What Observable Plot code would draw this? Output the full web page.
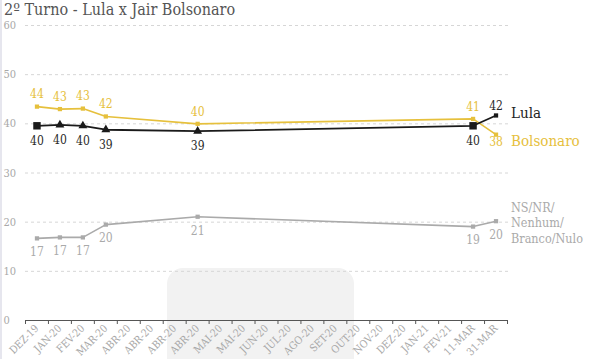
<!DOCTYPE html>
<html>
<head>
<meta charset="utf-8">
<script src="https://cdn.jsdelivr.net/npm/d3@7"></script>
<script src="https://cdn.jsdelivr.net/npm/@observablehq/plot@0.6"></script>
<style>
  body { margin: 0; background: #fff; }
  #wrap { position: relative; width: 600px; height: 359px; overflow: hidden; font-family: "DejaVu Serif Condensed", "DejaVu Serif", serif; }
  #edge { position: absolute; left: 0; top: 0; width: 2px; height: 359px; background: #e6e6ee; }
  #mark { position: absolute; left: 167px; top: 268px; width: 187px; height: 120px; background: #f2f2f2; border-radius: 16px 16px 0 0; }
  #title { position: relative; height: 20px; line-height: 20px; padding-left: 4px; font-size: 16px; color: #555; font-stretch: condensed; white-space: nowrap; }
  #chart { position: relative; }
  #chart svg { background: transparent; overflow: visible; }
</style>
</head>
<body>
<div id="wrap">
  <div id="edge"></div>
  <div id="mark"></div>
  <div id="title">2º Turno - Lula x Jair Bolsonaro</div>
  <div id="chart"></div>
</div>
<script>
const categories = ["DEZ-19","JAN-20","FEV-20","MAR-20","ABR-20","ABR-20","ABR-20","ABR-20","MAI-20","MAI-20","JUN-20","JUL-20","AGO-20","SET-20","OUT-20","NOV-20","DEZ-20","JAN-21","FEV-21","11-MAR","31-MAR"];
const surveyIndex = [0, 1, 2, 3, 7, 19, 20];
const lula = [39.6, 39.8, 39.6, 38.8, 38.5, 39.6, 41.7];
const bolsonaro = [43.5, 43.0, 43.1, 41.5, 40.0, 41.0, 37.8];
const nsnr = [16.7, 16.9, 16.9, 19.5, 21.1, 19.1, 20.2];
const yTicks = [0, 10, 20, 30, 40, 50, 60];
const seriesNames = ["Lula", "Bolsonaro", "NS/NR/\nNenhum/\nBranco/Nulo"];

const GOLD = "#e6c03c", BLACK = "#1a1a1a", GRAY = "#aaaaaa";
const FONT = '"DejaVu Serif Condensed", "DejaVu Serif", serif';

const mk = (vals) => vals.map((v, i) => ({i, x: surveyIndex[i] + 0.5, y: v, label: Math.round(v)}));
const L = mk(lula), B = mk(bolsonaro), N = mk(nsnr);
const last = surveyIndex.length - 1;

const chart = Plot.plot({
  width: 600,
  height: 339,
  marginTop: 5,
  marginBottom: 39,
  marginLeft: 25,
  marginRight: 93,
  style: {fontFamily: FONT, background: "transparent", overflow: "visible"},
  x: {type: "linear", domain: [0, categories.length]},
  y: {domain: [0, 60]},
  marks: [
    Plot.gridY(yTicks.filter(d => d > 0), {stroke: "#d6d6d6", strokeOpacity: 1, strokeDasharray: "3,3", x1: 0, x2: categories.length + 0.15}),
    Plot.axisY(yTicks, {tickSize: 0, tickPadding: 22, textAnchor: "start", fill: "#a8a8a8", fontSize: 11, label: null}),
    Plot.ruleY([0], {stroke: "#555", strokeWidth: 1.2}),
    Plot.axisX(d3.range(categories.length + 1), {tickSize: 4, tickFormat: () => "", stroke: "#555", label: null}),
    Plot.axisX(d3.range(categories.length).map(i => i + 0.5), {tickSize: 0, tickPadding: 6, tickRotate: -45, tickFormat: d => categories[Math.floor(d)], fill: "#a8a8a8", fontSize: 10.5, label: null}),

    Plot.line(N, {x: "x", y: "y", stroke: GRAY, strokeWidth: 1.6}),
    Plot.dot(N, {x: "x", y: "y", symbol: "square", r: 2.4, fill: GRAY}),
    Plot.text(N, {x: "x", y: "y", text: "label", dy: 14, fill: GRAY, fontSize: 12}),

    Plot.line(B, {x: "x", y: "y", stroke: GOLD, strokeWidth: 1.6}),
    Plot.dot(B, {x: "x", y: "y", symbol: "square", r: 2.4, fill: GOLD}),
    Plot.text(B, {x: "x", y: "y", text: "label", fill: GOLD, fontSize: 12, filter: d => d.i !== last, dy: -12}),
    Plot.text(B, {x: "x", y: "y", text: "label", fill: GOLD, fontSize: 12, filter: d => d.i === last, dy: 8}),

    Plot.line(L, {x: "x", y: "y", stroke: BLACK, strokeWidth: 1.8}),
    Plot.dot(L, {x: "x", y: "y", symbol: "triangle", r: 3.3, fill: BLACK, filter: d => d.i > 0 && d.i < last - 1}),
    Plot.dot(L, {x: "x", y: "y", symbol: "square", r: 4.2, fill: BLACK, filter: d => d.i === 0 || d.i === last - 1}),
    Plot.dot(L, {x: "x", y: "y", symbol: "square", r: 2.4, fill: BLACK, filter: d => d.i === last}),
    Plot.text(L, {x: "x", y: "y", text: "label", fill: "#2a2a2a", fontSize: 12, filter: d => d.i !== last, dy: 15}),
    Plot.text(L, {x: "x", y: "y", text: "label", fill: "#2a2a2a", fontSize: 12, filter: d => d.i === last, dy: -9}),

    Plot.text([L[last]], {x: "x", y: "y", text: () => seriesNames[0], textAnchor: "start", dx: 15, dy: -2, fill: "#222", fontSize: 15}),
    Plot.text([B[last]], {x: "x", y: "y", text: () => seriesNames[1], textAnchor: "start", dx: 15, dy: 7, fill: GOLD, fontSize: 15}),
    Plot.text([N[last]], {x: "x", y: "y", text: () => seriesNames[2], textAnchor: "start", dx: 15, dy: 1, lineHeight: 1.25, fill: GRAY, fontSize: 12.5})
  ]
});
document.getElementById("chart").appendChild(chart);
</script>
</body>
</html>
